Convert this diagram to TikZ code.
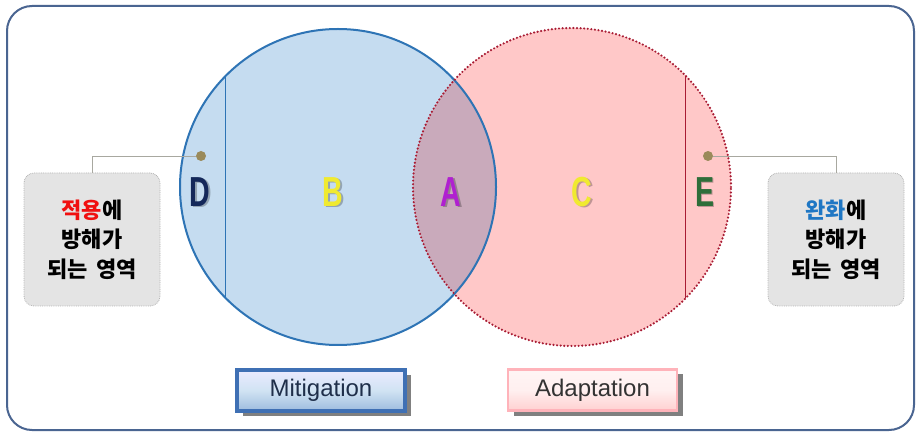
\documentclass[tikz,border=0pt]{standalone}
\usepackage{fontspec}
\setmainfont{Liberation Sans}
\newfontfamily\kr{Noto Sans CJK KR}
\usetikzlibrary{shadows}

\definecolor{framecol}{HTML}{4A6591}
\definecolor{mitfill}{HTML}{C5DCF0}
\definecolor{mitline}{HTML}{2E74B5}
\definecolor{adafill}{HTML}{FFC8C8}
\definecolor{adaline}{HTML}{A81C34}
\definecolor{overlap}{HTML}{C9AABB}
\definecolor{pincol}{HTML}{9A8A5A}
\definecolor{leadcol}{HTML}{A8A8A0}
\definecolor{notefill}{HTML}{E4E4E4}
\definecolor{noteline}{HTML}{B4B4B4}
\definecolor{lettD}{HTML}{14285A}
\definecolor{lettY}{HTML}{F0EA30}
\definecolor{lettA}{HTML}{B020D0}
\definecolor{lettE}{HTML}{2E6E3A}
\definecolor{krred}{HTML}{F01010}
\definecolor{krblue}{HTML}{1F77C4}
\definecolor{btnblue}{HTML}{3F70B4}
\definecolor{btnpink}{HTML}{FFB3BA}
\definecolor{btntext}{HTML}{1F2F4A}

\begin{document}
\begin{tikzpicture}[x=1pt,y=-1pt,
  region/.style={font=\fontsize{42}{42}\bfseries\selectfont, xscale=0.68, inner sep=0pt},
  regionshadow/.style={region, text=black, opacity=0.25},
  pin/.style={circle, fill=pincol, inner sep=0pt, minimum size=10pt},
  lead/.style={draw=leadcol, line width=0.8pt},
  note/.style={draw=noteline, densely dotted, line width=0.8pt, fill=notefill,
    rounded corners=10pt, minimum width=136pt, minimum height=133pt,
    align=center, font=\kr\bfseries\fontsize{22}{29.5}\selectfont},
  button/.style={minimum height=41pt, inner sep=0pt,
    font=\fontsize{24}{24}\selectfont,
    drop shadow={shadow xshift=6pt, shadow yshift=-5pt, fill=black!50, opacity=1}},
]
\useasboundingbox (0,0) rectangle (918,435);
\fill[white] (0,0) rectangle (918,435);

% outer frame
\draw[framecol, line width=2pt, rounded corners=25pt] (7,6) rectangle (914,430);

% the two sets
\coordinate (mc) at (338,187);
\coordinate (ac) at (572,187);
\fill[mitfill] (mc) circle[radius=158pt];
\fill[adafill] (ac) circle[radius=159pt];
\begin{scope}
  \clip (mc) circle[radius=158pt];
  \fill[overlap] (ac) circle[radius=159pt];
  \draw[mitline, line width=0.9pt] (225,0) -- (225,435);
\end{scope}
\begin{scope}
  \clip (ac) circle[radius=159pt];
  \draw[adaline, line width=0.9pt] (685,0) -- (685,435);
\end{scope}
\draw[mitline, line width=2pt] (mc) circle[radius=158pt];
\draw[adaline, line width=2.4pt, line cap=round, dash pattern=on 0pt off 3.6pt]
  (ac) circle[radius=159pt];

% region letters with a soft shadow
\foreach \x/\t in {200/D, 333/B, 451/A, 582/C, 705/E}
  \node[regionshadow] at (\x+1.5,193.5) {\t};
\node[region, text=lettD] (D) at (200,192) {D};
\node[region, text=lettY] (B) at (333,192) {B};
\node[region, text=lettA] (A) at (451,192) {A};
\node[region, text=lettY] (C) at (582,192) {C};
\node[region, text=lettE] (E) at (705,192) {E};

% side notes with their leaders
\node[note] (noteL) at (92,239.5)
  {\textcolor{krred}{적용}에\\방해가\\되는\hspace{0.4em}영역};
\node[note] (noteR) at (836,239.5)
  {\textcolor{krblue}{완화}에\\방해가\\되는\hspace{0.4em}영역};
\node[pin] (pinL) at (201,156) {};
\node[pin] (pinR) at (708,156) {};
\draw[lead] (pinL) -| (noteL.north);
\draw[lead] (pinR) -| (noteR.north);

% legend buttons
\node[button, minimum width=168pt, draw=btnblue, line width=3.5pt,
  top color=blue!8!white, bottom color=mitfill!70!btnblue, middle color=mitfill!80!white,
  text=btntext] (mit) at (321,390.5) {Mitigation};
\node[button, minimum width=169pt, draw=btnpink, line width=2.5pt,
  top color=red!4!white, bottom color=adafill!85!white, middle color=red!6!white,
  text=black!80] (ada) at (592.5,390) {Adaptation};
\end{tikzpicture}
\end{document}
